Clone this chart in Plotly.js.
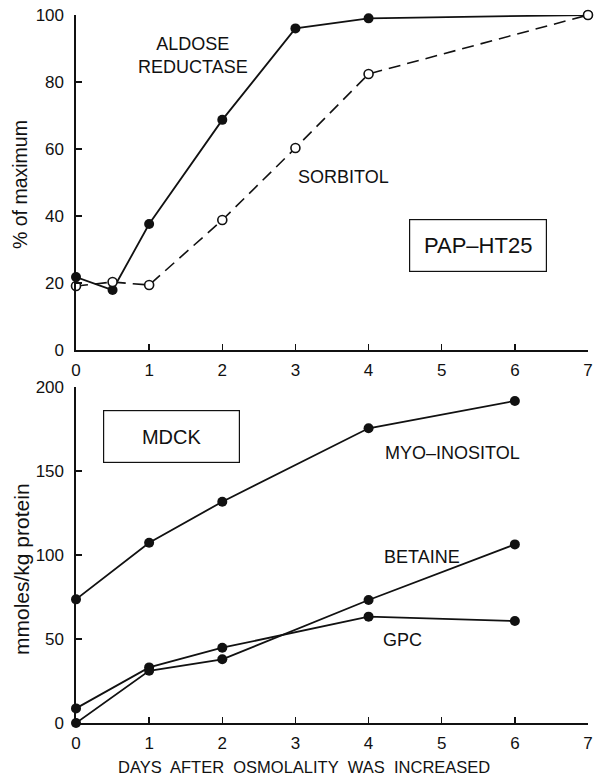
<!DOCTYPE html>
<html>
<head>
<meta charset="utf-8">
<script src="https://cdn.plot.ly/plotly-3.0.1.min.js"></script>
<style>html,body{margin:0;padding:0;background:#fff;}</style>
</head>
<body>
<div id="chart" style="width:597px;height:777px;"></div>
<script>
// Top panel: PAP-HT25, % of maximum
const daysTop = [0, 0.5, 1, 2, 3, 4, 7];
const aldoseReductase = [21.8, 17.9, 37.6, 68.7, 96, 99, 100];
const sorbitol = [19.1, 20.3, 19.4, 38.8, 60.3, 82.4, 100];

// Bottom panel: MDCK, mmoles/kg protein
const daysBottom = [0, 1, 2, 4, 6];
const myoInositol = [73.6, 107.3, 131.7, 175.4, 191.7];
const gpc = [8.7, 33.1, 44.8, 63.3, 60.7];
const betaine = [0, 31.1, 37.9, 73.2, 106.3];

const xTicks = [0, 1, 2, 3, 4, 5, 6, 7];
const yTicksTop = [0, 20, 40, 60, 80, 100];
const yTicksBottom = [0, 50, 100, 150, 200];

const FONT = 'Liberation Sans, Arial, sans-serif';
const INK = '#111';

function solid(x, y, xa, ya) {
  return {x: x, y: y, xaxis: xa, yaxis: ya, type: 'scatter', mode: 'lines+markers',
    cliponaxis: false,
    line: {color: INK, width: 1.8},
    marker: {symbol: 'circle', size: 10, color: INK}};
}

const traces = [
  solid(daysTop, aldoseReductase, 'x', 'y'),
  {x: daysTop, y: sorbitol, xaxis: 'x', yaxis: 'y', type: 'scatter', mode: 'lines+markers',
    cliponaxis: false,
    line: {color: INK, width: 1.6, dash: '12px,7px'},
    marker: {symbol: 'circle', size: 9, color: '#fff', line: {color: INK, width: 1.6}}},
  solid(daysBottom, myoInositol, 'x2', 'y2'),
  solid(daysBottom, gpc, 'x2', 'y2'),
  solid(daysBottom, betaine, 'x2', 'y2')
];

function xAxis(anchor) {
  return {anchor: anchor, domain: [0, 1], range: [0, 7], tickvals: xTicks,
    ticks: 'inside', ticklen: 6, tickwidth: 1.4, tickcolor: INK,
    showline: true, linecolor: INK, linewidth: 1.6, showgrid: false, zeroline: false,
    ticklabelstandoff: 4, tickfont: {family: FONT, size: 17, color: INK}};
}
function yAxis(anchor, domain, range, vals) {
  return {anchor: anchor, domain: domain, range: range, tickvals: vals,
    ticks: 'inside', ticklen: 6, tickwidth: 1.4, tickcolor: INK,
    showline: true, linecolor: INK, linewidth: 1.6, showgrid: false, zeroline: false,
    ticklabelstandoff: 7, tickfont: {family: FONT, size: 17, color: INK}};
}

function label(text, x, y, xr, yr, size) {
  return {text: text, x: x, y: y, xref: xr, yref: yr, showarrow: false,
    font: {family: FONT, size: size || 18, color: INK}, xanchor: 'center', yanchor: 'middle'};
}
function boxed(text, x, y, xr, yr, size, w, h) {
  const a = label(text, x, y, xr, yr, size);
  a.width = w; a.height = h; a.bordercolor = INK; a.borderwidth = 1.2; a.borderpad = 0;
  a.bgcolor = '#fff';
  return a;
}
function vtitle(text, px, py, size) {
  // px, py are page pixel positions converted to paper coordinates
  const a = label(text, (px - 76) / 512, (723 - py) / 708, 'paper', 'paper', size);
  a.textangle = -90;
  return a;
}

const xTitle = label('DAYS&nbsp; AFTER&nbsp; OSMOLALITY&nbsp; WAS&nbsp; INCREASED',
  (304 - 76) / 512, (723 - 767) / 708, 'paper', 'paper', 16.5);

const layout = {
  width: 597, height: 777,
  margin: {l: 76, r: 9, t: 15, b: 54},
  paper_bgcolor: '#fff', plot_bgcolor: '#fff',
  showlegend: false,
  xaxis: xAxis('y'),
  yaxis: yAxis('x', [0.5268, 1], [0, 100], yTicksTop),
  xaxis2: xAxis('y2'),
  yaxis2: yAxis('x2', [0, 0.4746], [0, 200], yTicksBottom),
  annotations: [
    label('ALDOSE<br>REDUCTASE', 1.6, 88, 'x', 'y'),
    label('SORBITOL', 3.66, 51.6, 'x', 'y'),
    boxed('PAP\u2013HT25', 5.49, 31.3, 'x', 'y', 22, 136, 51),
    boxed('MDCK', 1.3, 170.5, 'x2', 'y2', 20, 135, 51),
    label('MYO\u2013INOSITOL', 5.15, 160.5, 'x2', 'y2'),
    label('BETAINE', 4.73, 99, 'x2', 'y2'),
    label('GPC', 4.46, 49.4, 'x2', 'y2'),
    vtitle('% of maximum', 20, 185, 19.5),
    vtitle('mmoles/kg protein', 21, 569, 21),
    xTitle
  ]
};

Plotly.newPlot('chart', traces, layout, {staticPlot: true, displayModeBar: false});
</script>
</body>
</html>
